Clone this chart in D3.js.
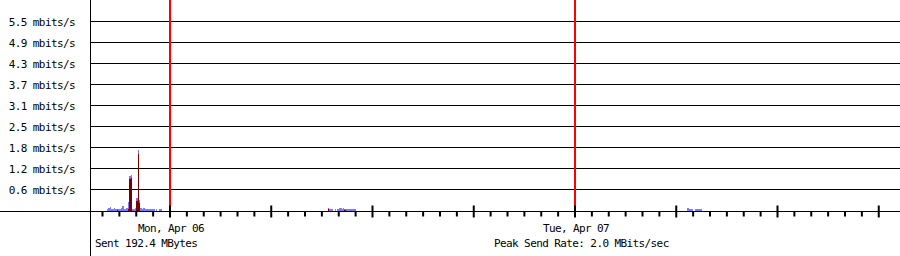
<!DOCTYPE html>
<html>
<head>
<meta charset="utf-8">
<script src="https://cdn.jsdelivr.net/npm/d3@7"></script>
<style>
  body { margin: 0; background: #fff; }
  svg text { font-family: "DejaVu Sans Mono", monospace; font-size: 11px; letter-spacing: -0.6px; fill: #000; }
</style>
</head>
<body>
<div id="main"></div>
<script>
const ctx = {
    w: 900,
    h: 256,
    axisX: 90,
    BAR_MIN: 5, // minutes per sample
};

// y grid ticks (mbits/s) and their labels
const yTickValues = [0.615, 1.23, 1.845, 2.46, 3.075, 3.69, 4.305, 4.92, 5.535];
const yTickLabels = ["0.6 mbits/s", "1.2 mbits/s", "1.8 mbits/s", "2.5 mbits/s", "3.1 mbits/s",
                     "3.7 mbits/s", "4.3 mbits/s", "4.9 mbits/s", "5.5 mbits/s"];

const dayLabels = ["Mon, Apr 06", "Tue, Apr 07"];
const dayDates = [new Date(2020, 3, 6), new Date(2020, 3, 7)];
const footerLeft = "Sent 192.4 MBytes";
const footerRight = "Peak Send Rate: 2.0 MBits/sec";

// samples: minutes from Mon Apr 06 00:00, received and sent rates (mbits/s)
const sampleMinutes = [
    -225, -220, -215, -210, -205, -200, -195, -190, -185, -180,
    -175, -170, -165, -160, -155, -150, -145, -140, -135, -130,
    -125, -120, -115, -110, -105, -100, -95, -90, -85, -80,
    -75, -70, -65, -60, -55, -50, -45, -40, -35,
    560, 565, 570, 575, 580, 585, 590, 595, 600, 605,
    610, 615, 620, 625, 630, 635, 640, 645, 650, 655,
    1840, 1845, 1850, 1855, 1860, 1865, 1870, 1875, 1880, 1885
];
const recvMbits = [
    0.03, 0.06, 0.09, 0.03, 0.03, 0.06, 0.03, 0.03, 0.05, 0.03,
    0.06, 0.12, 0.05, 0.03, 0.06, 0.25, 1.00, 1.05, 0.05, 0.03,
    0.06, 0.38, 1.78, 0.30, 0.08, 0.05, 0.06, 0.03, 0.05, 0.03,
    0.03, 0.03, 0.05, 0.03, 0.00, 0.03, 0.00, 0.03, 0.03,
    0.08, 0.03, 0.03, 0.03, 0.00, 0.03, 0.00, 0.03, 0.06, 0.06,
    0.05, 0.06, 0.05, 0.05, 0.03, 0.03, 0.03, 0.03, 0.03, 0.03,
    0.08, 0.05, 0.03, 0.03, 0.00, 0.03, 0.03, 0.03, 0.03, 0.03
];
const sentMbits = [
    0.00, 0.00, 0.00, 0.00, 0.00, 0.00, 0.00, 0.03, 0.00, 0.00,
    0.00, 0.00, 0.00, 0.00, 0.00, 0.06, 0.94, 0.99, 0.00, 0.00,
    0.00, 0.30, 1.68, 0.26, 0.00, 0.00, 0.00, 0.00, 0.00, 0.00,
    0.00, 0.00, 0.00, 0.00, 0.00, 0.00, 0.00, 0.00, 0.00,
    0.06, 0.00, 0.00, 0.00, 0.00, 0.00, 0.00, 0.00, 0.00, 0.00,
    0.00, 0.00, 0.04, 0.00, 0.00, 0.00, 0.00, 0.00, 0.00, 0.00,
    0.00, 0.00, 0.00, 0.00, 0.00, 0.00, 0.00, 0.00, 0.00, 0.00
];

const t0 = new Date(2020, 3, 5, 20);
const t1 = new Date(2020, 3, 7, 20);
const x = d3.scaleTime().domain([t0, t1]).range([102.5, 912.5]);
const y = d3.scaleLinear().domain([0, 5.535]).range([210.5, 21.5]);

function minToDate(m){
    return new Date(dayDates[0].getTime() + m * 60000);
}

function drawGrid(svg){
    let g = svg.append("g").attr("id", "grid");
    g.selectAll("line")
        .data(yTickValues)
        .enter()
        .append("line")
        .attr("x1", ctx.axisX).attr("x2", ctx.w)
        .attr("y1", d => Math.floor(y(d)) + 0.5)
        .attr("y2", d => Math.floor(y(d)) + 0.5)
        .attr("stroke", "#000");
    g.selectAll("text")
        .data(yTickValues)
        .enter()
        .append("text")
        .attr("x", 75)
        .attr("y", d => Math.floor(y(d)) + 4.5)
        .attr("text-anchor", "end")
        .text((d, i) => yTickLabels[i]);
}

function drawBars(svg){
    let samples = sampleMinutes.map((m, i) => ({m: m, t: minToDate(m), recv: recvMbits[i], sent: sentMbits[i]}));
    let base = Math.floor(y(0)) + 1;
    let px = d => Math.round(x(d.t));
    let pw = d => Math.round(x(minToDate(d.m + ctx.BAR_MIN))) - px(d);
    let g = svg.append("g").attr("id", "traffic").attr("shape-rendering", "crispEdges");
    g.append("g").selectAll("rect")
        .data(samples.filter(d => d.recv > 0))
        .enter()
        .append("rect")
        .attr("x", px)
        .attr("width", pw)
        .attr("y", d => Math.round(y(d.recv)))
        .attr("height", d => base - Math.round(y(d.recv)))
        .attr("fill", "#7b7bff");
    let sent = samples.filter(d => d.sent > 0);
    g.append("g").selectAll("rect")
        .data(sent)
        .enter()
        .append("rect")
        .attr("x", px)
        .attr("width", pw)
        .attr("y", d => Math.round(y(d.sent)))
        .attr("height", d => base - Math.round(y(d.sent)))
        .attr("fill", "#7a0000");
    g.append("g").selectAll("rect")
        .data(sent)
        .enter()
        .append("rect")
        .attr("x", px)
        .attr("width", pw)
        .attr("y", d => Math.round(y(d.sent)))
        .attr("height", 1)
        .attr("fill", "#e040c8");
}

function drawAxes(svg){
    let base = Math.floor(y(0)) + 1.5;
    // red midnight lines
    svg.append("g").selectAll("line")
        .data(dayDates)
        .enter()
        .append("line")
        .attr("x1", d => x(d)).attr("x2", d => x(d))
        .attr("y1", 0).attr("y2", base - 5)
        .attr("stroke", "#ff0000")
        .attr("stroke-width", 2);
    // baseline and y axis
    svg.append("line")
        .attr("x1", 0).attr("x2", ctx.w)
        .attr("y1", base).attr("y2", base)
        .attr("stroke", "#000");
    svg.append("line")
        .attr("x1", ctx.axisX + 0.5).attr("x2", ctx.axisX + 0.5)
        .attr("y1", 0).attr("y2", ctx.h)
        .attr("stroke", "#000");
    // hourly ticks, longer every 6 hours
    let hours = d3.timeHour.range(t0, new Date(2020, 3, 7, 18, 1));
    svg.append("g").selectAll("line")
        .data(hours)
        .enter()
        .append("line")
        .attr("x1", d => x(d)).attr("x2", d => x(d))
        .attr("y1", d => d.getHours() % 6 == 0 ? base - 6 : base)
        .attr("y2", d => d.getHours() % 6 == 0 ? base + 6 : base + 5)
        .attr("stroke", "#000")
        .attr("stroke-width", 2);
    svg.append("g").selectAll("text")
        .data(dayDates)
        .enter()
        .append("text")
        .attr("x", d => x(d) + 1)
        .attr("y", 232)
        .attr("text-anchor", "middle")
        .text((d, i) => dayLabels[i]);
    svg.append("text").attr("x", 95).attr("y", 246.5).text(footerLeft);
    svg.append("text").attr("x", 494).attr("y", 246.5).text(footerRight);
}

function createViz(){
    let svgEl = d3.select("#main").append("svg");
    svgEl.attr("width", ctx.w);
    svgEl.attr("height", ctx.h);
    drawGrid(svgEl);
    drawBars(svgEl);
    drawAxes(svgEl);
}
createViz();
</script>
</body>
</html>
